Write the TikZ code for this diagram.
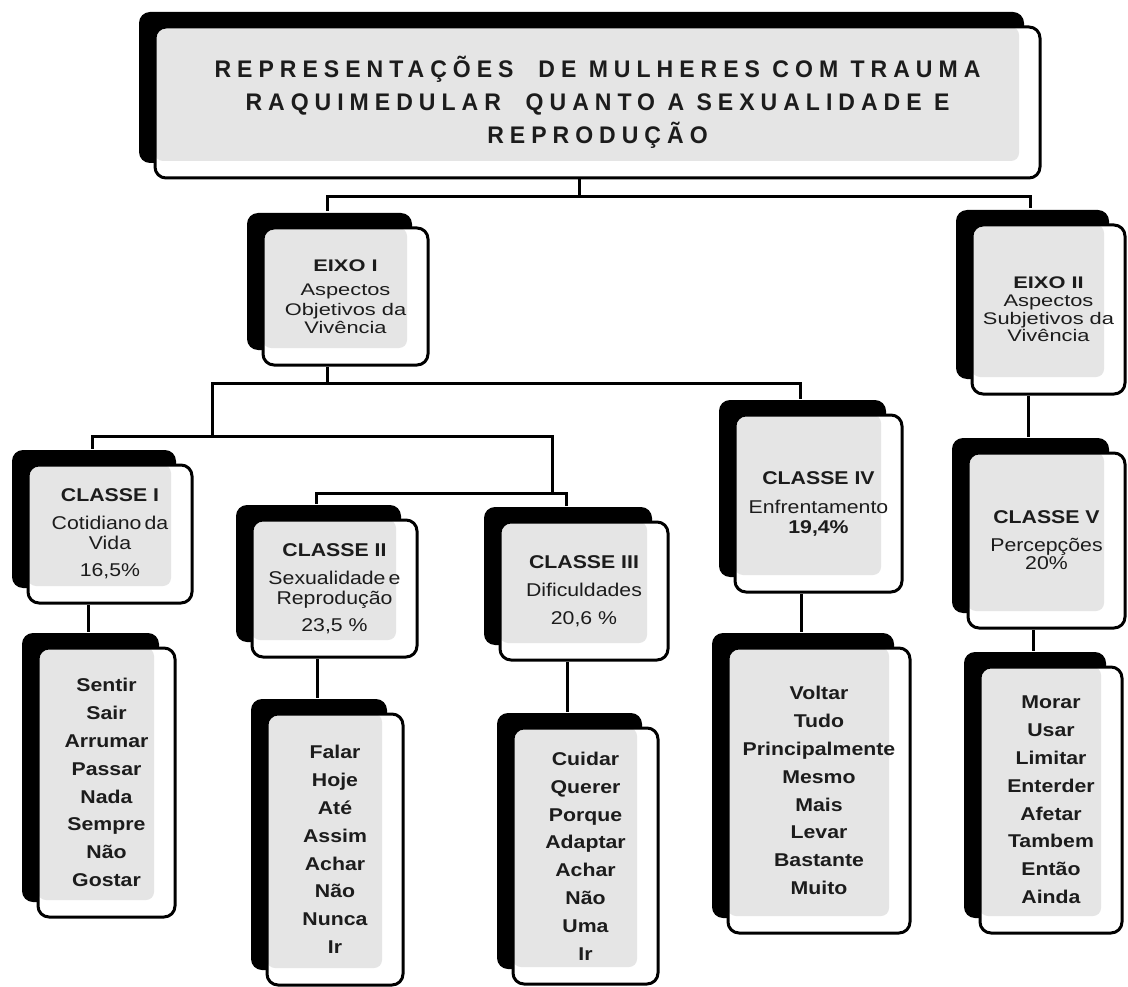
\documentclass[tikz,border=0pt]{standalone}
\usepackage{fontspec}
\setmainfont{Liberation Sans}[FakeStretch=1.15]
\newfontfamily\titlefont{Liberation Sans}[FakeStretch=0.96, LetterSpace=25]
\newfontfamily\widefont{Liberation Sans}[FakeStretch=1.3]
\usetikzlibrary{shadows}
\definecolor{boxgray}{HTML}{E5E5E5}
\definecolor{ink}{HTML}{1C1C1C}

\begin{document}
\begin{tikzpicture}[x=1pt,y=-1pt,
  panel/.style={draw=black,line width=3pt,fill=white,rounded corners=11pt,
    inner sep=0pt,align=center,text=ink,
    general shadow={fill=black,shadow xshift=-16pt,shadow yshift=15pt},
    path picture={\fill[boxgray,rounded corners=8pt]
      (path picture bounding box.north west) rectangle
      ([shift={(-21pt,17pt)}]path picture bounding box.south east);}},
  eixo/.style={panel,font=\widefont\fontsize{16.8}{17.6}\selectfont},
  classe/.style={panel,font=\fontsize{18.5}{20}\selectfont},
  words/.style={panel,font=\bfseries\fontsize{18.5}{27.8}\selectfont},
  link/.style={line width=3pt}]
\useasboundingbox (0,0) rectangle (1128,987);

% title
\node[panel,minimum width=885pt,minimum height=151pt,
  font=\titlefont\bfseries\fontsize{24}{33}\selectfont] (title) at (597.5,102.5)
  {REPRESENTAÇÕES\ \ DE MULHERES COM TRAUMA\\RAQUIMEDULAR\ \ QUANTO A SEXUALIDADE E\\REPRODUÇÃO};

% eixos
\node[eixo,minimum width=165pt,minimum height=137pt] (eixo1) at (345.5,296.5)
  {{\bfseries EIXO I}\\[7pt]Aspectos\\[2pt]Objetivos da\\Vivência};
\node[eixo,minimum width=153pt,minimum height=169pt] (eixo2) at (1048.5,309.5)
  {{\bfseries EIXO II}\\Aspectos\\Subjetivos da\\Vivência};

% classes
\node[classe,minimum width=164pt,minimum height=138pt] (c1) at (110,534)
  {\bfseries CLASSE I\\[8pt]Cotidiano\,da\\Vida\\[7pt]16,5\%};
\node[classe,minimum width=165pt,minimum height=137pt] (c2) at (334.5,588.5)
  {\bfseries CLASSE II\\[8pt]Sexualidade\,e\\Reprodução\\[7pt]23,5 \%};
\node[classe,minimum width=168pt,minimum height=138pt] (c3) at (584,591)
  {\bfseries CLASSE III\\[8pt]Dificuldades\\[8pt]20,6 \%};
\node[classe,minimum width=167pt,minimum height=177pt] (c4) at (818.5,503.5)
  {\bfseries CLASSE IV\\[9pt]Enfrentamento\\\bfseries 19,4\%};
\node[classe,minimum width=157pt,minimum height=175pt] (c5) at (1046.5,540.5)
  {\bfseries CLASSE V\\[8pt]Percepções\\[-2pt]20\%};

% word lists
\node[words,minimum width=137pt,minimum height=269pt] (l1) at (106.5,782.5)
  {Sentir\\Sair\\Arrumar\\Passar\\Nada\\Sempre\\Não\\Gostar};
\node[words,minimum width=136pt,minimum height=271pt] (l2) at (335,849.5)
  {Falar\\Hoje\\Até\\Assim\\Achar\\Não\\Nunca\\Ir};
\node[words,minimum width=145pt,minimum height=256pt] (l3) at (585.5,856)
  {Cuidar\\Querer\\Porque\\Adaptar\\Achar\\Não\\Uma\\Ir};
\node[words,minimum width=182pt,minimum height=285pt] (l4) at (819,790.5)
  {Voltar\\Tudo\\Principalmente\\Mesmo\\Mais\\Levar\\Bastante\\Muito};
\node[words,minimum width=142pt,minimum height=266pt] (l5) at (1051,800)
  {Morar\\Usar\\Limitar\\Enterder\\Afetar\\Tambem\\Então\\Ainda};

\foreach \n in {title,eixo1,eixo2,c1,c2,c3,c4,c5,l1,l2,l3,l4,l5}{
  \coordinate (\n-in) at ([shift={(-18pt,15pt)}]\n.north);
  \coordinate (\n-out) at ([xshift=-18pt]\n.south);
}

% connectors
\draw[link] (title-out) -- ++(0,17) coordinate (t0) -| (eixo1-in);
\draw[link] (t0) -| (eixo2-in);
\draw[link] (eixo1-out) -- ++(0,17) coordinate (e0) -| (c4-in);
\draw[link] (e0) -| ++(-115.5,53) coordinate (e1) -| (c1-in);
\draw[link] (e1) -| ++(340,57) coordinate (e2) -| (c2-in);
\draw[link] (e2) -| (c3-in);
\draw[link] (c5-in) -- (c5-in |- eixo2.south);
\draw[link] (l1-in) -- (l1-in |- c1.south);
\draw[link] (l2-in) -- (l2-in |- c2.south);
\draw[link] (l3-in) -- (l3-in |- c3.south);
\draw[link] (l4-in) -- (l4-in |- c4.south);
\draw[link] (l5-in) -- (l5-in |- c5.south);
\end{tikzpicture}
\end{document}
